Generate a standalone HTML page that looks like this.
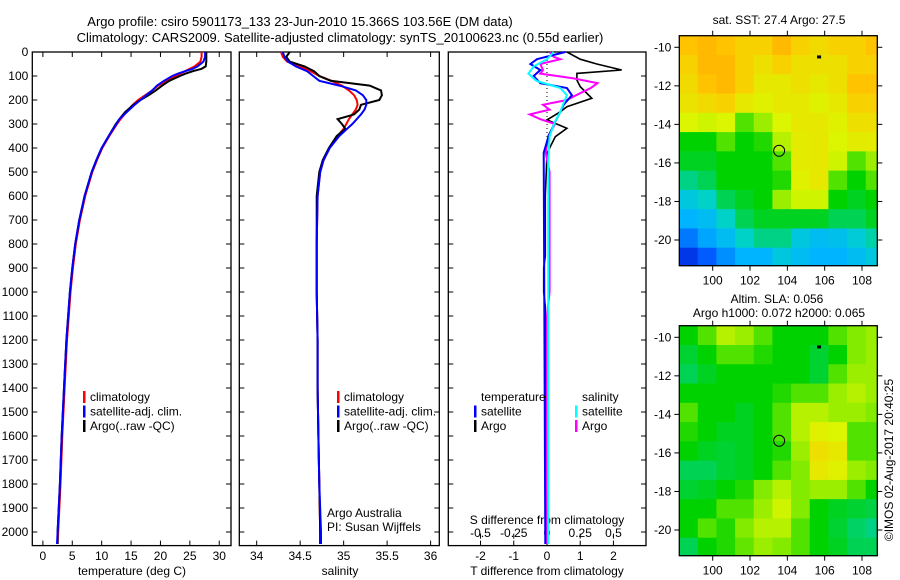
<!DOCTYPE html>
<html><head><meta charset="utf-8"><style>
html,body{margin:0;padding:0;background:#fff;}
svg{display:block;font-family:"Liberation Sans",sans-serif;}
text{font-size:12px;fill:#000;}
</style></head><body>
<svg id="c" width="900" height="580" viewBox="0 0 900 580">
<text x="300" y="26" text-anchor="middle" style="font-size:13px">Argo profile: csiro 5901173_133 23-Jun-2010 15.366S 103.56E (DM data)</text>
<text x="340" y="42" text-anchor="middle" style="font-size:13px">Climatology: CARS2009. Satellite-adjusted climatology: synTS_20100623.nc (0.55d earlier)</text>
<text x="779" y="24" text-anchor="middle">sat. SST: 27.4 Argo: 27.5</text>
<text x="777" y="303" text-anchor="middle">Altim. SLA: 0.056</text>
<text x="779" y="317" text-anchor="middle">Argo h1000: 0.072 h2000: 0.065</text>
<text transform="translate(893,460) rotate(-90)" text-anchor="middle">©IMOS 02-Aug-2017 20:40:25</text>
<text x="327" y="517">Argo Australia</text>
<text x="327" y="531">PI: Susan Wijffels</text>
<text x="547" y="524" text-anchor="middle">S difference from climatology</text>
<text x="547" y="575" text-anchor="middle">T difference from climatology</text>
<text x="132" y="575" text-anchor="middle">temperature (deg C)</text>
<text x="340" y="575" text-anchor="middle">salinity</text>
</svg>
<script>
// ---------- data ----------
const tDepths=[0,20,40,60,70,80,90,100,120,140,160,180,200,220,250,280,300,350,400,450,500,600,700,800,900,1000,1200,1400,1600,1800,2000,2050];
const tClim=[27.0,27.0,26.8,25.8,25.0,24.2,23.4,22.6,21.0,19.6,18.6,17.4,16.2,15.3,14.2,13.2,12.6,11.3,10.1,9.2,8.4,7.2,6.3,5.6,5.1,4.7,4.1,3.7,3.3,3.0,2.6,2.5];
const tSat=[27.6,27.6,27.3,26.3,25.5,24.2,23.0,22.0,20.6,19.4,18.6,17.6,16.6,15.6,14.3,13.0,12.5,11.2,10.0,9.1,8.3,7.1,6.2,5.5,5.0,4.6,4.0,3.6,3.2,2.9,2.5,2.4];
const tArgo=[27.8,27.8,27.8,27.7,27.0,25.5,24.3,23.3,21.5,20.3,19.2,18.0,16.6,15.4,14.0,13.0,12.4,11.2,10.0,9.1,8.3,7.1,6.2,5.5,5.0,4.6,4.0,3.6,3.2,2.9,2.5,2.5];
const sDepths=[0,20,40,60,80,100,120,140,160,180,200,220,240,260,280,300,320,350,400,450,500,600,800,1000,1200,1400,1600,1800,2000,2050];
const sClim=[34.28,34.3,34.35,34.5,34.62,34.72,34.86,34.98,35.06,35.12,35.15,35.16,35.14,35.1,35.06,35.03,35.0,34.93,34.84,34.77,34.73,34.7,34.69,34.69,34.7,34.7,34.71,34.72,34.73,34.73];
const sSat=[34.3,34.32,34.36,34.45,34.58,34.65,34.72,34.95,35.14,35.22,35.26,35.26,35.24,35.2,35.15,35.1,35.04,34.95,34.84,34.77,34.73,34.7,34.69,34.69,34.7,34.7,34.71,34.72,34.74,34.74];
const sArgo=[34.38,34.34,34.38,34.55,34.66,34.72,34.85,35.3,35.43,35.44,35.41,35.2,35.18,35.12,34.93,34.98,35.02,34.92,34.83,34.76,34.72,34.69,34.69,34.69,34.7,34.7,34.71,34.72,34.73,34.73];
const dTArgoDepths=[0,30,50,75,89,117,144,193,228,249,283,318,353,422,600,850,900,1000,1060,1200,1600,2050];
const dTArgo=[0.6,1.0,1.5,2.25,0.9,0.9,1.0,1.35,0.6,0.4,0,0.6,0.25,0,-0.05,-0.05,-0.1,-0.1,-0.05,-0.05,-0.05,-0.05];
const dTSatDepths=[0,30,50,75,100,130,150,180,220,250,290,350,420,2050];
const dTSat=[0.55,-0.3,-0.5,-0.2,-0.4,-0.2,0.6,0.75,0.5,0.4,0.25,0.05,-0.1,-0.05];
const dSSatDepths=[0,30,60,90,120,150,180,220,250,290,350,450,2050];
const dSSat=[0.05,0,-0.1,-0.14,-0.08,0.1,0.15,0.12,0.1,0.06,0.02,0.01,0.01];
const dSArgoDepths=[0,20,30,50,75,90,110,130,150,180,200,220,240,260,280,300,350,420,500,1000,1100,2050];
const dSArgo=[0.02,0.05,0.1,-0.05,-0.03,-0.05,0.2,0.38,0.33,0.22,0.15,-0.03,0.02,-0.13,-0.05,0.06,0.01,-0.01,0.02,0.02,0.0,0.0];
const depthTicks=[0,100,200,300,400,500,600,700,800,900,1000,1100,1200,1300,1400,1500,1600,1700,1800,1900,2000];
const tTicks=[0,5,10,15,20,25,30];
const sTicks=[34,34.5,35,35.5,36];
const sTickLabels=["34","34.5","35","35.5","36"];
const dTTicks=[-2,-1,0,1,2];
const dSTicks=[-0.5,-0.25,0,0.25,0.5];
const dSTickLabels=["-0.5","-0.25","0","0.25","0.5"];
const lonTicks=[100,102,104,106,108];
const latTicks=[-10,-12,-14,-16,-18,-20];
const gridLon0=98.2, gridLat0=-9.4;
const sstGrid=[
[.76,.78,.76,.73,.73,.78,.73,.71,.73,.73,.76],
[.73,.78,.78,.73,.7,.73,.7,.7,.7,.73,.73],
[.71,.76,.78,.73,.68,.68,.7,.68,.7,.76,.76],
[.69,.71,.73,.68,.66,.68,.68,.66,.68,.73,.73],
[.65,.64,.65,.55,.6,.65,.68,.68,.66,.7,.7],
[.5,.5,.55,.5,.52,.62,.67,.68,.65,.67,.67],
[.48,.48,.5,.5,.5,.55,.67,.68,.64,.55,.6],
[.42,.45,.5,.5,.5,.52,.66,.68,.55,.5,.55],
[.35,.38,.45,.48,.5,.6,.64,.64,.5,.48,.5],
[.3,.32,.38,.45,.48,.48,.48,.48,.45,.45,.48],
[.22,.28,.32,.38,.42,.42,.35,.32,.33,.36,.4],
[.12,.18,.25,.3,.3,.35,.32,.3,.3,.32,.35]];
const slaGrid=[
[.5,.55,.62,.6,.55,.5,.5,.5,.55,.58,.6],
[.47,.5,.55,.55,.52,.5,.5,.47,.5,.58,.6],
[.45,.48,.5,.5,.5,.5,.5,.47,.55,.6,.6],
[.5,.5,.5,.5,.5,.52,.55,.55,.6,.62,.6],
[.55,.5,.5,.48,.5,.55,.62,.62,.6,.6,.58],
[.52,.5,.48,.48,.5,.55,.62,.66,.65,.55,.55],
[.5,.48,.47,.48,.5,.52,.6,.7,.68,.55,.55],
[.45,.45,.47,.48,.5,.55,.58,.68,.66,.6,.58],
[.47,.48,.5,.52,.58,.62,.58,.6,.6,.55,.5],
[.5,.5,.55,.55,.6,.64,.58,.5,.48,.47,.46],
[.5,.55,.52,.58,.62,.62,.55,.5,.47,.44,.42],
[.45,.5,.52,.56,.6,.58,.55,.5,.48,.45,.45]];
const argoLon=103.56, argoLat=-15.37;

// ---------- drawing ----------
const NS="http://www.w3.org/2000/svg";
const svg=document.getElementById('c');
function mk(tag,attrs,parent){const e=document.createElementNS(NS,tag);for(const k in attrs)e.setAttribute(k,attrs[k]);(parent||svg).appendChild(e);return e;}
const top0=52, bot=545.6;
const yD=d=>top0+d*0.24;

function panel(name,x0,x1,v0,v1){
  const xs=v=>x0+(v-v0)/(v1-v0)*(x1-x0);
  const g=mk('g',{});
  
  
  const r=mk('rect',{x:x0,y:top0,width:x1-x0,height:bot-top0,fill:'none',stroke:'#000','stroke-width':1.3},g);
  
  
  return {g,xs};
}
function line(p,name,depths,vals,color,fn,w){
  const pts=depths.map((d,i)=>p.xs(fn?fn(vals[i]):vals[i]).toFixed(1)+','+yD(d).toFixed(1)).join(' ');
  const e=mk('polyline',{points:pts,fill:'none',stroke:color,'stroke-width':w||2},p.g);
  
  
}
function depthAxis(p,x0,x1,labels){
  depthTicks.forEach(d=>{
    mk('line',{x1:x0,x2:x0+5,y1:yD(d),y2:yD(d),stroke:'#000'},p.g);
    mk('line',{x1:x1-5,x2:x1,y1:yD(d),y2:yD(d),stroke:'#000'},p.g);
    if(labels){const t=mk('text',{x:x0-4,y:yD(d)+4,'text-anchor':'end'},p.g);t.textContent=d;
      
      }
  });
}
function xAxis(p,ticks,labels,ly,tickName){
  ticks.forEach((v,i)=>{
    const x=p.xs(v);
    mk('line',{x1:x,x2:x,y1:bot,y2:bot-5,stroke:'#000'},p.g);
    mk('line',{x1:x,x2:x,y1:top0,y2:top0+5,stroke:'#000'},p.g);
    const t=mk('text',{x:x,y:ly,'text-anchor':'middle'},p.g);t.textContent=labels[i];
    
    
  });
}
function legend(p,x,y,items){
  items.forEach((it,i)=>{
    const yy=y+i*14.5;
    mk('rect',{x:x,y:yy-10,width:2.5,height:12,fill:it[1]},p.g);
    const t=mk('text',{x:x+7,y:yy},p.g);t.textContent=it[0];
    
    
  });
}

// Panel 1 temperature
const p1=panel('temperature-panel',32.3,231,-1.8,32.0);
depthAxis(p1,32.3,231,true);
xAxis(p1,tTicks,tTicks.map(String),560,'temperature-tick-label');
line(p1,'temp-climatology-line',tDepths,tClim,'#f00');
line(p1,'temp-argo-line',tDepths,tArgo,'#000');
line(p1,'temp-satellite-line',tDepths,tSat,'#00f');
legend(p1,83,401,[['climatology','#f00'],['satellite-adj. clim.','#00f'],['Argo(..raw -QC)','#000']]);

// Panel 2 salinity
const p2=panel('salinity-panel',239.3,439.3,33.8,36.1);
depthAxis(p2,239.3,439.3,false);
xAxis(p2,sTicks,sTickLabels,560,'salinity-tick-label');
line(p2,'sal-climatology-line',sDepths,sClim,'#f00');
line(p2,'sal-argo-line',sDepths,sArgo,'#000');
line(p2,'sal-satellite-line',sDepths,sSat,'#00f');
legend(p2,337,401,[['climatology','#f00'],['satellite-adj. clim.','#00f'],['Argo(..raw -QC)','#000']]);

// Panel 3 differences
const p3=panel('difference-panel',448.3,646,-2.97,2.98);
depthAxis(p3,448.3,646,false);
dTTicks.forEach(v=>{const x=p3.xs(v);mk('line',{x1:x,x2:x,y1:bot,y2:bot-5,stroke:'#000'},p3.g);
  const t=mk('text',{x:x,y:560,'text-anchor':'middle'},p3.g);t.textContent=v;
  
  });
dSTicks.forEach((v,i)=>{const x=p3.xs(v*4);mk('line',{x1:x,x2:x,y1:bot-12,y2:bot-7,stroke:'#000'},p3.g);
  const t=mk('text',{x:x,y:537,'text-anchor':'middle'},p3.g);t.textContent=dSTickLabels[i];
  
  });
mk('line',{x1:p3.xs(0),x2:p3.xs(0),y1:top0,y2:yD(360),stroke:'#000','stroke-dasharray':'1,3'},p3.g);
line(p3,'t-diff-argo-line',dTArgoDepths,dTArgo,'#000',null,1.6);
line(p3,'s-diff-argo-line',dSArgoDepths,dSArgo,'#f0f',v=>v*4,2);
line(p3,'t-diff-satellite-line',dTSatDepths,dTSat,'#00f',null,2);
line(p3,'s-diff-satellite-line',dSSatDepths,dSSat,'#0ff',v=>v*4,2);
legend(p3,474,401,[['temperature','none'],['satellite','#00f'],['Argo','#000']]);
legend(p3,575,401,[['salinity','none'],['satellite','#0ff'],['Argo','#f0f']]);

// Maps
function jet(v){
  const stops=[[0,[0,0,140]],[0.15,[0,70,255]],[0.3,[0,180,255]],[0.38,[0,210,200]],[0.5,[0,210,0]],[0.58,[130,235,0]],[0.65,[220,245,0]],[0.75,[255,200,0]],[0.85,[255,150,0]],[1,[200,0,0]]];
  for(let i=1;i<stops.length;i++){if(v<=stops[i][0]){const a=stops[i-1],b=stops[i],f=(v-a[0])/(b[0]-a[0]);
    return 'rgb('+a[1].map((c,j)=>Math.round(c+(b[1][j]-c)*f)).join(',')+')';}}
  return 'rgb(200,0,0)';
}
function map(name,grid,x0,x1,y0,y1,lat10y,lat20y){
  const g=mk('g',{});
  
  
  const lonScale=(862-712.7)/8;
  const lx=lon=>712.7+(lon-100)*lonScale;
  const latScale=(lat20y-lat10y)/10;
  const ly=lat=>lat10y+(-10-lat)*latScale;
  grid.forEach((row,r)=>row.forEach((v,c)=>{
    const xa=Math.max(x0,lx(gridLon0+c)), xb=Math.min(x1,lx(gridLon0+c+1));
    const ya=Math.max(y0,ly(gridLat0-r)), yb=Math.min(y1,ly(gridLat0-r-1));
    const cell=mk('rect',{x:xa,y:ya,width:xb-xa+0.5,height:yb-ya+0.5,fill:jet(v)},g);
    
    
  }));
  mk('rect',{x:x0,y:y0,width:x1-x0,height:y1-y0,fill:'none',stroke:'#000','stroke-width':1.3},g);
  lonTicks.forEach(l=>{const x=lx(l);mk('line',{x1:x,x2:x,y1:y1,y2:y1+5,stroke:'#000'},g);mk('line',{x1:x,x2:x,y1:y0,y2:y0-5,stroke:'#000'},g);
    const t=mk('text',{x:x,y:y1+19,'text-anchor':'middle'},g);t.textContent=l;
    
    });
  latTicks.forEach(l=>{const y=ly(l);mk('line',{x1:x0,x2:x0-5,y1:y,y2:y,stroke:'#000'},g);mk('line',{x1:x1,x2:x1+5,y1:y,y2:y,stroke:'#000'},g);
    const t=mk('text',{x:x0-8,y:y+4,'text-anchor':'end'},g);t.textContent=l;
    
    });
  const c=mk('circle',{cx:lx(argoLon),cy:ly(argoLat),r:5.5,fill:'none',stroke:'#000','stroke-width':1},g);
  
  
  mk('rect',{x:lx(105.7)-2,y:ly(-10.5)-1.5,width:4,height:3,fill:'#000'},g);
}
map('sst-map',sstGrid,679.3,877.3,35.7,265.7,47.3,240);
map('sla-map',slaGrid,679.3,877.3,325.7,555.7,337.3,530);
</script>
</body></html>
